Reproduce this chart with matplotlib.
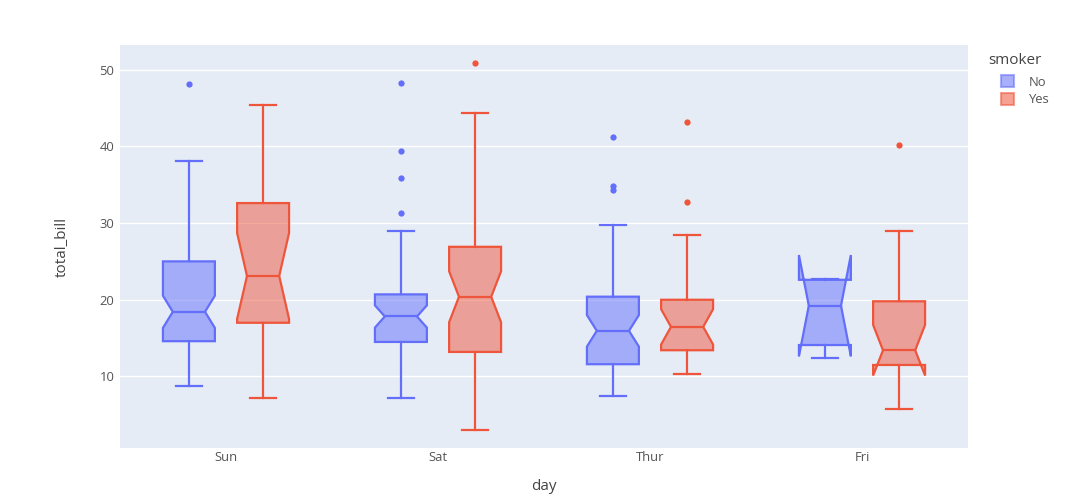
import numpy as np
import matplotlib.pyplot as plt
from matplotlib.patches import Polygon, Patch

plt.rcParams['font.family'] = ['Open Sans', 'DejaVu Sans']

days = ["Sun", "Sat", "Thur", "Fri"]
smoker = ["No", "Yes"]

# box stats, one entry per day (Sun, Sat, Thur, Fri)
no_low = [8.77, 7.25, 7.51, 12.46]
no_q1 = [14.6, 14.5, 11.6, 14.1]
no_med = [18.43, 17.82, 15.95, 19.23]
no_q3 = [25.0, 20.7, 20.4, 22.6]
no_high = [38.07, 28.97, 29.8, 22.75]
no_notch = [2.1, 1.45, 2.05, 6.6]
no_out = [[48.17], [48.27, 39.42, 35.83, 31.27], [41.19, 34.83, 34.3], []]

yes_low = [7.25, 3.07, 10.34, 5.75]
yes_q1 = [17.0, 13.2, 13.42, 11.5]
yes_med = [23.1, 20.39, 16.47, 13.42]
yes_q3 = [32.6, 26.9, 20.0, 19.8]
yes_high = [45.35, 44.3, 28.4, 28.97]
yes_notch = [5.6, 3.32, 2.3, 3.3]
yes_out = [[], [50.81], [43.11, 32.68], [40.17]]

colors = ['#636efa', '#EF553B']
txt = '#555555'

fig = plt.figure(figsize=(10.8, 5), dpi=100)
ax = fig.add_axes([120/1080, 52/500, 848/1080, 403/500])
ax.set_facecolor('#E5ECF6')

half = 0.245/2
cap = half*0.5
nw = 0.19*2*half   # depth of the notch


def draw_box(x, lo, q1, m, q3, hi, nh, out, c):
    ln, un = m - nh, m + nh
    x0, x1 = x - half, x + half
    pts = [(x0, q1), (x0, ln), (x0 + nw, m), (x0, un), (x0, q3),
           (x1, q3), (x1, un), (x1 - nw, m), (x1, ln), (x1, q1)]
    ax.add_patch(Polygon(pts, closed=True, facecolor=c, alpha=0.5, edgecolor='none', zorder=2))
    ax.add_patch(Polygon(pts, closed=True, facecolor='none', edgecolor=c, lw=1.6,
                         joinstyle='miter', zorder=3))
    ax.plot([x0 + nw, x1 - nw], [m, m], color=c, lw=1.6, zorder=3)
    ax.plot([x, x], [q1, lo], color=c, lw=1.6, zorder=3)
    ax.plot([x, x], [q3, hi], color=c, lw=1.6, zorder=3)
    ax.plot([x - cap, x + cap], [lo, lo], color=c, lw=1.6, zorder=3)
    ax.plot([x - cap, x + cap], [hi, hi], color=c, lw=1.6, zorder=3)
    if out:
        ax.plot([x]*len(out), out, 'o', color=c, ms=4.5, mec='none', zorder=4)


for i in range(len(days)):
    draw_box(i - 0.175, no_low[i], no_q1[i], no_med[i], no_q3[i], no_high[i],
             no_notch[i], no_out[i], colors[0])
    draw_box(i + 0.175, yes_low[i], yes_q1[i], yes_med[i], yes_q3[i], yes_high[i],
             yes_notch[i], yes_out[i], colors[1])

ax.set_xlim(-0.5, 3.5)
ax.set_ylim(0.68, 53.2)
ax.set_xticks(range(len(days)))
ax.set_xticklabels(days)
ax.set_yticks([10, 20, 30, 40, 50])
ax.grid(axis='y', color='white', lw=1, zorder=0)
ax.set_axisbelow(True)
for s in ax.spines.values():
    s.set_visible(False)
ax.tick_params(length=0, labelsize=9.4, colors=txt)
ax.tick_params(axis='x', pad=2)
ax.tick_params(axis='y', pad=4)
ax.set_xlabel("day", fontsize=11, color='#444444')
ax.set_ylabel("total_bill", fontsize=11, color='#444444')
ax.xaxis.set_label_coords(0.5, -0.078)
ax.yaxis.set_label_coords(-0.059, 0.5)

fig.text(988/1080, 1 - 60/500, "smoker", fontsize=11, color='#444444', va='center', ha='left')
handles = [Patch(facecolor=c, alpha=0.55, edgecolor=c, lw=1.5) for c in colors]
leg = fig.legend(handles, smoker, loc='upper left',
                 bbox_to_anchor=(996/1080, 1 - 70/500), frameon=False,
                 fontsize=9.4, handlelength=1.0, handleheight=1.0,
                 handletextpad=1.1, labelspacing=0.35, borderaxespad=0)
for t in leg.get_texts():
    t.set_color(txt)

fig.savefig("out.png", dpi=100, facecolor='white')
